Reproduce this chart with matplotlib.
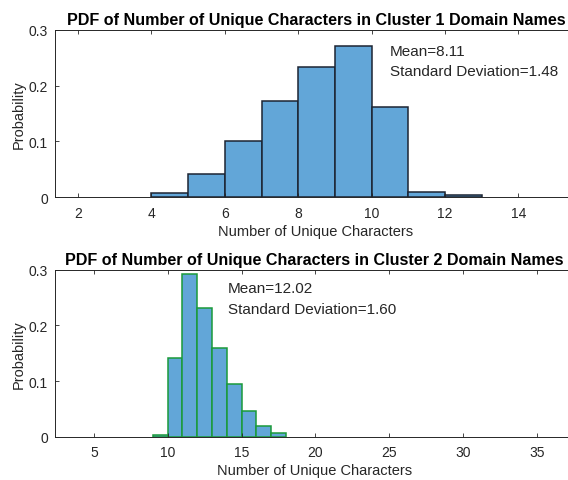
import matplotlib.pyplot as plt
import numpy as np

plt.rcParams['font.family'] = ['Liberation Sans', 'DejaVu Sans']

# Cluster 1 histogram (bin edges + probabilities)
c1_edges = [4, 5, 6, 7, 8, 9, 10, 11, 12, 13]
c1_prob = [0.007, 0.042, 0.101, 0.172, 0.234, 0.270, 0.161, 0.009, 0.004]
c1_mean, c1_std = 8.11, 1.48

# Cluster 2 histogram
c2_edges = [9, 10, 11, 12, 13, 14, 15, 16, 17, 18]
c2_prob = [0.004, 0.142, 0.293, 0.231, 0.159, 0.095, 0.046, 0.020, 0.007]
c2_mean, c2_std = 12.02, 1.60

c1_xticks = [2, 4, 6, 8, 10, 12, 14]
c2_xticks = [5, 10, 15, 20, 25, 30, 35]
yticks = [0, 0.1, 0.2, 0.3]
ytick_labels = ['0', '0.1', '0.2', '0.3']

face = '#62a6d8'
tick_col = '#262626'

fig = plt.figure(figsize=(5.68, 4.81), dpi=100)
ax1 = fig.add_axes([0.0968, 0.5877, 0.919, 0.3484])
ax2 = fig.add_axes([0.0968, 0.0894, 0.913, 0.3478])


def draw_hist(ax, edges, prob, edge_color, xlim, xticks, title, mean, std, tx, ty):
    edges = np.array(edges, dtype=float)
    ax.bar(edges[:-1], prob, width=np.diff(edges), align='edge',
           color=face, edgecolor=edge_color, linewidth=1.1)
    ax.set_xlim(*xlim)
    ax.set_ylim(0, 0.3)
    ax.set_xticks(xticks)
    ax.set_yticks(yticks)
    ax.set_yticklabels(ytick_labels)
    ax.tick_params(direction='in', top=True, right=True, length=3,
                   labelsize=10, colors=tick_col, width=0.6)
    ax.tick_params(axis='x', pad=6)
    ax.tick_params(axis='y', pad=5)
    for sp in ax.spines.values():
        sp.set_color(tick_col)
        sp.set_linewidth(0.7)
    ax.set_xlabel('Number of Unique Characters', fontsize=10.5, color=tick_col, labelpad=3)
    ax.set_ylabel('Probability', fontsize=10.5, color=tick_col, labelpad=2)
    ax.set_title(title, fontsize=11.6, fontweight='bold', pad=4)
    ax.text(tx, ty[0], 'Mean=%.2f' % mean, fontsize=11, color='#262626', va='center')
    ax.text(tx, ty[1], 'Standard Deviation=%.2f' % std, fontsize=11, color='#262626', va='center')


draw_hist(ax1, c1_edges, c1_prob, '#1c2433', (1.37, 15.6), c1_xticks,
          'PDF of Number of Unique Characters in Cluster 1 Domain Names',
          c1_mean, c1_std, 10.5, (0.262, 0.227))
draw_hist(ax2, c2_edges, c2_prob, '#1a9a3a', (2.36, 37.5), c2_xticks,
          'PDF of Number of Unique Characters in Cluster 2 Domain Names',
          c2_mean, c2_std, 14.09, (0.268, 0.2295))

fig.savefig('out.png', dpi=100)
